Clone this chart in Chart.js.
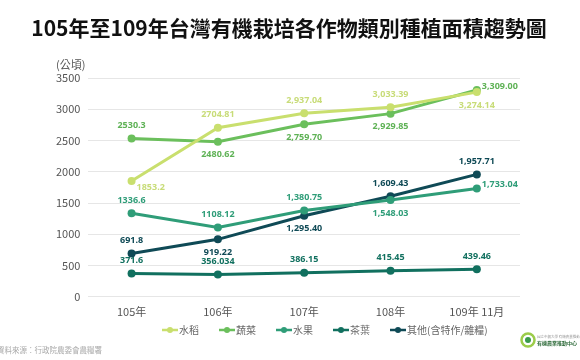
<!DOCTYPE html>
<html><head><meta charset="utf-8">
<script src="https://cdn.jsdelivr.net/npm/chart.js@4/dist/chart.umd.min.js"></script>
<style>html,body{margin:0;padding:0;background:#fff;}#wrap{width:580px;height:360px;}</style>
</head><body><div id="wrap"><canvas id="c" width="580" height="360"></canvas></div>
<script>
const categories = ['105年','106年','107年','108年','109年 11月'];
const seriesNames = ['水稻','蔬菜','水果','茶葉','其他(含特作/雜糧)'];
const rice = [1853.2, 2704.81, 2937.04, 3033.39, 3274.14];
const veg = [2530.3, 2480.62, 2759.70, 2929.85, 3309.00];
const fruit = [1336.6, 1108.12, 1380.75, 1548.03, 1733.04];
const tea = [371.6, 356.034, 386.15, 415.45, 439.46];
const other = [691.8, 919.22, 1295.40, 1609.43, 1957.71];
const riceLabels = ['1853.2','2704.81','2,937.04','3,033.39','3,274.14'];
const vegLabels = ['2530.3','2480.62','2,759.70','2,929.85','3,309.00'];
const fruitLabels = ['1336.6','1108.12','1,380.75','1,548.03','1,733.04'];
const teaLabels = ['371.6','356.034','386.15','415.45','439.46'];
const otherLabels = ['691.8','919.22','1,295.40','1,609.43','1,957.71'];
const yTicks = [0,500,1000,1500,2000,2500,3000,3500];
const colors = ['#c9df6e','#6bbf5c','#2f9d78','#11705f','#0f4a56'];
const labelColors = ['#c8dc78','#5fb256','#2f9d78','#11705f','#0f4a56'];
// label placement: 'a' above, 'b' below, 'br' below right, 'r' right-above
const placements = [
  ['br','a','a','a','b'],
  ['a','b','b','b','r'],
  ['a','a','a','b','r'],
  ['a','a','a','a','a'],
  ['a','b','b','a','a']
];
const allLabels = [riceLabels, vegLabels, fruitLabels, teaLabels, otherLabels];
const allData = [rice, veg, fruit, tea, other];

const FONT = '"Noto Sans CJK TC","Noto Sans",sans-serif';

const labelPlugin = {
  id: 'dlabels',
  afterDatasetsDraw(chart){
    const ctx = chart.ctx;
    ctx.save();
    ctx.font = 'bold 9px "Noto Sans","Open Sans",sans-serif';
    chart.data.datasets.forEach((ds, i) => {
      const meta = chart.getDatasetMeta(i);
      meta.data.forEach((pt, j) => {
        const p = placements[i][j];
        const txt = allLabels[i][j];
        let x = pt.x, y = pt.y;
        ctx.fillStyle = labelColors[i];
        ctx.textBaseline = 'middle';
        if (p === 'a') { ctx.textAlign = 'center'; y -= 13; }
        else if (p === 'b') { ctx.textAlign = 'center'; y += 13; }
        else if (p === 'br') { ctx.textAlign = 'left'; x += 5; y += 6; }
        else if (p === 'r') { ctx.textAlign = 'left'; x += 5; y -= 4; }
        ctx.fillText(txt, x, y);
      });
    });
    ctx.restore();
  }
};

const decoPlugin = {
  id: 'deco',
  afterDraw(chart){
    const ctx = chart.ctx;
    ctx.save();
    ctx.fillStyle = '#111';
    ctx.font = 'bold 21px ' + FONT;
    ctx.textAlign = 'center'; ctx.textBaseline = 'middle';
    ctx.fillText('105年至109年台灣有機栽培各作物類別種植面積趨勢圖', 289, 28);
    ctx.fillStyle = '#555';
    ctx.font = '11px ' + FONT;
    ctx.textAlign = 'left';
    ctx.fillText('(公頃)', 56, 65);
    // legend
    ctx.font = '10px ' + FONT;
    let x = 162;
    const ly = 330;
    chart.data.datasets.forEach((ds, i) => {
      ctx.strokeStyle = colors[i]; ctx.lineWidth = 2.5;
      ctx.beginPath(); ctx.moveTo(x, ly); ctx.lineTo(x + 16, ly); ctx.stroke();
      ctx.fillStyle = colors[i];
      ctx.beginPath(); ctx.arc(x + 8, ly, 3, 0, Math.PI*2); ctx.fill();
      ctx.fillStyle = '#666';
      ctx.fillText(ds.label, x + 17, ly);
      x += 17 + ctx.measureText(ds.label).width + 20;
    });
    // source
    ctx.fillStyle = '#aaa';
    ctx.font = '7.5px ' + FONT;
    ctx.fillText('資料來源：行政院農委會農糧署', -3, 350);
    // logo
    ctx.strokeStyle = '#9ccc4a'; ctx.lineWidth = 2.5;
    ctx.beginPath(); ctx.arc(528, 340, 6.5, 0, Math.PI*2); ctx.stroke();
    ctx.fillStyle = '#3a9a4a';
    ctx.beginPath(); ctx.arc(528, 340, 3, 0, Math.PI*2); ctx.fill();
    ctx.fillStyle = '#999'; ctx.font = '3.5px ' + FONT;
    ctx.fillText('國立中興大學 有機農業推動中心', 537, 337);
    ctx.fillStyle = '#2e6b3a'; ctx.font = 'bold 5px ' + FONT;
    ctx.fillText('有機農業推動中心', 537, 343);
    ctx.restore();
  }
};

new Chart(document.getElementById('c'), {
  type: 'line',
  data: {
    labels: categories,
    datasets: seriesNames.map((n, i) => ({
      label: n,
      data: allData[i],
      borderColor: colors[i],
      backgroundColor: colors[i],
      borderWidth: 3,
      pointRadius: 4,
      pointBackgroundColor: colors[i],
      pointBorderWidth: 0,
      tension: 0,
      fill: false
    }))
  },
  options: {
    responsive: false,
    animation: false,
    layout: { padding: { top: 78, left: 48, right: 60, bottom: 42 } },
    plugins: {
      title: { display: false },
      tooltip: { enabled: false },
      legend: { display: false }
    },
    scales: {
      x: {
        offset: true,
        grid: { display: false },
        border: { display: false },
        ticks: { color: '#555', font: { size: 11, family: FONT }, padding: 0 }
      },
      y: {
        min: 0, max: 3500,
        afterBuildTicks(scale){ scale.ticks = yTicks.map(v => ({ value: v })); },
        grid: { color: '#e6e6e6', drawTicks: false },
        border: { display: false },
        ticks: { color: '#555', font: { size: 11, family: FONT }, padding: 8, callback: v => String(v) }
      }
    }
  },
  plugins: [labelPlugin, decoPlugin]
});
</script></body></html>
